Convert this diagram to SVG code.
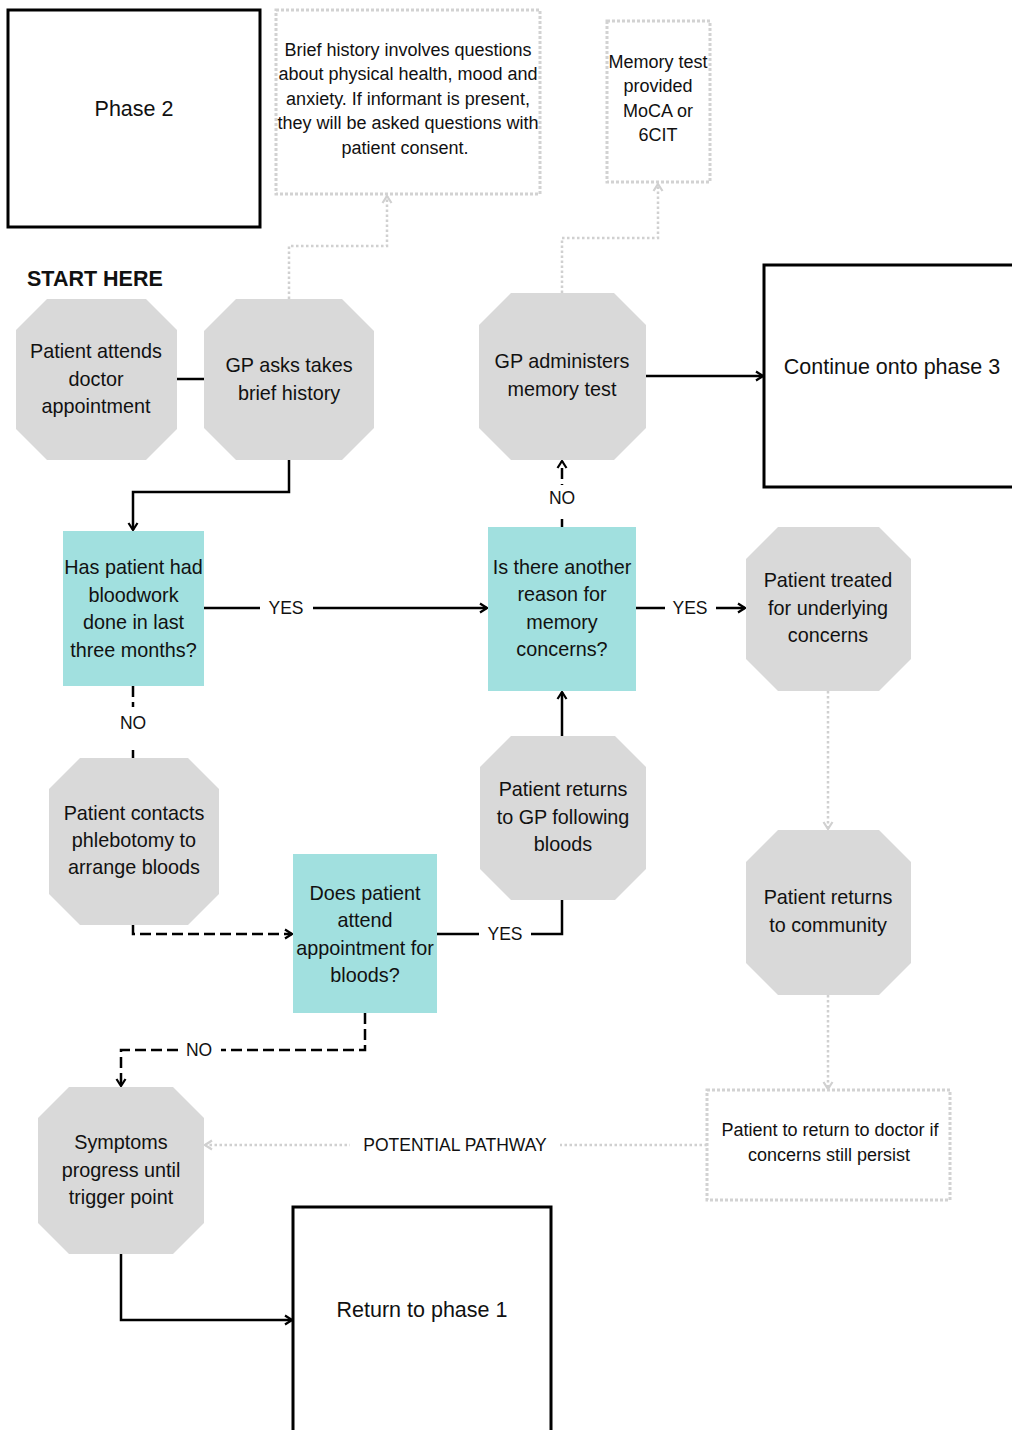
<svg xmlns="http://www.w3.org/2000/svg" width="1012" height="1430" viewBox="0 0 1012 1430">
  <style>
    text { font-family: "Liberation Sans", Arial, sans-serif; fill: #111; text-anchor: middle; }
    .node { font-size: 19.8px; }
    .phase { font-size: 21.5px; }
    .note { font-size: 18px; }
    .lbl { font-size: 17.5px; }
    .start { font-size: 21.5px; font-weight: bold; text-anchor: start; }
    .oct { fill: #d9d9d9; }
    .dec { fill: #a1e0df; }
    .phasebox { fill: #fff; stroke: #000; stroke-width: 3; }
    .notebox { fill: #fff; stroke: #d2d2d2; stroke-width: 3; stroke-dasharray: 3 2; }
    .solid { fill: none; stroke: #000; stroke-width: 2.5; }
    .dash { fill: none; stroke: #000; stroke-width: 2.5; stroke-dasharray: 11 5; }
    .dot { fill: none; stroke: #d0d0d0; stroke-width: 2.5; stroke-dasharray: 2.5 2.5; }
    .gap { fill: #fff; }
  </style>
  <defs>
    <marker id="arr" viewBox="0 0 12 12" refX="11" refY="6" markerWidth="12" markerHeight="12" markerUnits="userSpaceOnUse" orient="auto">
      <path d="M4,1.5 L11,6 L4,10.5" fill="none" stroke="#000" stroke-width="2.2"/>
    </marker>
    <marker id="arrGrey" viewBox="0 0 12 12" refX="11" refY="6" markerWidth="12" markerHeight="12" markerUnits="userSpaceOnUse" orient="auto">
      <path d="M4,1.5 L11,6 L4,10.5" fill="none" stroke="#d0d0d0" stroke-width="2.2"/>
    </marker>
  </defs>

  <rect width="1012" height="1430" fill="#fff"/>

  <!-- connectors -->
  <g id="connectors">
    <!-- grey dotted annotation links -->
    <path class="dot" d="M289,299 V246 H387 V196" marker-end="url(#arrGrey)"/>
    <path class="dot" d="M562,293 V238 H658 V184" marker-end="url(#arrGrey)"/>
    <path class="dot" d="M828,691 V829" marker-end="url(#arrGrey)"/>
    <path class="dot" d="M828,995 V1089" marker-end="url(#arrGrey)"/>
    <path class="dot" d="M707,1145 H205" marker-end="url(#arrGrey)"/>

    <!-- main flow -->
    <path class="solid" d="M177,379 H204"/>
    <path class="solid" d="M289,460 V492 H133 V530" marker-end="url(#arr)"/>
    <path class="solid" d="M204,608 H487" marker-end="url(#arr)"/>
    <path class="solid" d="M636,608 H745" marker-end="url(#arr)"/>
    <path class="dash" d="M562,527 V461" marker-end="url(#arr)"/>
    <path class="solid" d="M646,376 H763" marker-end="url(#arr)"/>
    <path class="dash" d="M133,686 V758"/>
    <path class="dash" d="M133,925 V934 H292" marker-end="url(#arr)"/>
    <path class="solid" d="M437,934 H562 V900"/>
    <path class="solid" d="M562,736 V692" marker-end="url(#arr)"/>
    <path class="dash" d="M365,1013 V1050 H121 V1086" marker-end="url(#arr)"/>
    <path class="solid" d="M121,1254 V1320 H292" marker-end="url(#arr)"/>

    <!-- connector labels -->
    <rect class="gap" x="260" y="597" width="53" height="22"/>
    <text class="lbl" x="286" y="614">YES</text>
    <rect class="gap" x="665" y="597" width="51" height="22"/>
    <text class="lbl" x="690" y="614">YES</text>
    <rect class="gap" x="545" y="485" width="34" height="34"/>
    <text class="lbl" x="562" y="504">NO</text>
    <rect class="gap" x="116" y="707" width="34" height="38"/>
    <text class="lbl" x="133" y="729">NO</text>
    <rect class="gap" x="479" y="923" width="52" height="22"/>
    <text class="lbl" x="505" y="940">YES</text>
    <rect class="gap" x="178" y="1039" width="43" height="22"/>
    <text class="lbl" x="199" y="1056">NO</text>
    <rect class="gap" x="350" y="1134" width="210" height="22"/>
    <text class="lbl" x="455" y="1151">POTENTIAL PATHWAY</text>
  </g>

  <!-- phase boxes -->
  <g id="phase2">
    <rect class="phasebox" x="8" y="10" width="252" height="217"/>
    <text class="phase" x="134" y="116">Phase 2</text>
  </g>
  <g id="phase3">
    <rect class="phasebox" x="764" y="265" width="260" height="222"/>
    <text class="phase" x="892" y="374">Continue onto phase 3</text>
  </g>
  <g id="phase1">
    <rect class="phasebox" x="293" y="1207" width="258" height="230"/>
    <text class="phase" x="422" y="1317">Return to phase 1</text>
  </g>

  <!-- annotation notes -->
  <g id="note-history">
    <rect class="notebox" x="276" y="10" width="264" height="184"/>
    <text class="note" x="408" y="55.5">Brief history involves questions</text>
    <text class="note" x="408" y="80">about physical health, mood and</text>
    <text class="note" x="408" y="104.5">anxiety. If informant is present,</text>
    <text class="note" x="408" y="129">they will be asked questions with</text>
    <text class="note" x="405" y="153.5">patient consent.</text>
  </g>
  <g id="note-memory">
    <rect class="notebox" x="607" y="21" width="103" height="161"/>
    <text class="note" x="658" y="67.5">Memory test</text>
    <text class="note" x="658" y="92">provided</text>
    <text class="note" x="658" y="116.5">MoCA or</text>
    <text class="note" x="658" y="141">6CIT</text>
  </g>
  <g id="note-return">
    <rect class="notebox" x="707" y="1090" width="243" height="110"/>
    <text class="note" x="830" y="1135.5">Patient to return to doctor if</text>
    <text class="note" x="829" y="1160.5">concerns still persist</text>
  </g>

  <text class="start" x="27" y="285.5">START HERE</text>

  <!-- process steps -->
  <g id="attends">
    <polygon class="oct" points="47,299 146,299 177,330 177,429 146,460 47,460 16,429 16,330"/>
    <text class="node" x="96" y="358">Patient attends</text>
    <text class="node" x="96" y="385.5">doctor</text>
    <text class="node" x="96" y="413">appointment</text>
  </g>
  <g id="history">
    <polygon class="oct" points="236,299 342,299 374,331 374,428 342,460 236,460 204,428 204,331"/>
    <text class="node" x="289" y="372">GP asks takes</text>
    <text class="node" x="289" y="399.5">brief history</text>
  </g>
  <g id="memory-test">
    <polygon class="oct" points="511,293 614,293 646,325 646,428 614,460 511,460 479,428 479,325"/>
    <text class="node" x="562" y="368">GP administers</text>
    <text class="node" x="562" y="396">memory test</text>
  </g>
  <g id="treated">
    <polygon class="oct" points="778,527 879,527 911,559 911,659 879,691 778,691 746,659 746,559"/>
    <text class="node" x="828" y="587">Patient treated</text>
    <text class="node" x="828" y="614.5">for underlying</text>
    <text class="node" x="828" y="642">concerns</text>
  </g>
  <g id="community">
    <polygon class="oct" points="778,830 879,830 911,862 911,963 879,995 778,995 746,963 746,862"/>
    <text class="node" x="828" y="904">Patient returns</text>
    <text class="node" x="828" y="931.5">to community</text>
  </g>
  <g id="returns-gp">
    <polygon class="oct" points="511,736 615,736 646,767 646,869 615,900 511,900 480,869 480,767"/>
    <text class="node" x="563" y="796">Patient returns</text>
    <text class="node" x="563" y="823.5">to GP following</text>
    <text class="node" x="563" y="851">bloods</text>
  </g>
  <g id="phlebotomy">
    <polygon class="oct" points="80,758 188,758 219,789 219,894 188,925 80,925 49,894 49,789"/>
    <text class="node" x="134" y="820">Patient contacts</text>
    <text class="node" x="134" y="847">phlebotomy to</text>
    <text class="node" x="134" y="874">arrange bloods</text>
  </g>
  <g id="symptoms">
    <polygon class="oct" points="69,1087 173,1087 204,1118 204,1223 173,1254 69,1254 38,1223 38,1118"/>
    <text class="node" x="121" y="1149">Symptoms</text>
    <text class="node" x="121" y="1176.5">progress until</text>
    <text class="node" x="121" y="1204">trigger point</text>
  </g>

  <!-- decisions -->
  <g id="bloodwork">
    <rect class="dec" x="63" y="531" width="141" height="155"/>
    <text class="node" x="133.5" y="574">Has patient had</text>
    <text class="node" x="133.5" y="601.5">bloodwork</text>
    <text class="node" x="133.5" y="629">done in last</text>
    <text class="node" x="133.5" y="656.5">three months?</text>
  </g>
  <g id="other-reason">
    <rect class="dec" x="488" y="527" width="148" height="164"/>
    <text class="node" x="562" y="574">Is there another</text>
    <text class="node" x="562" y="601">reason for</text>
    <text class="node" x="562" y="628.5">memory</text>
    <text class="node" x="562" y="656">concerns?</text>
  </g>
  <g id="attend-bloods">
    <rect class="dec" x="293" y="854" width="144" height="159"/>
    <text class="node" x="365" y="900">Does patient</text>
    <text class="node" x="365" y="927">attend</text>
    <text class="node" x="365" y="954.5">appointment for</text>
    <text class="node" x="365" y="982">bloods?</text>
  </g>
</svg>
